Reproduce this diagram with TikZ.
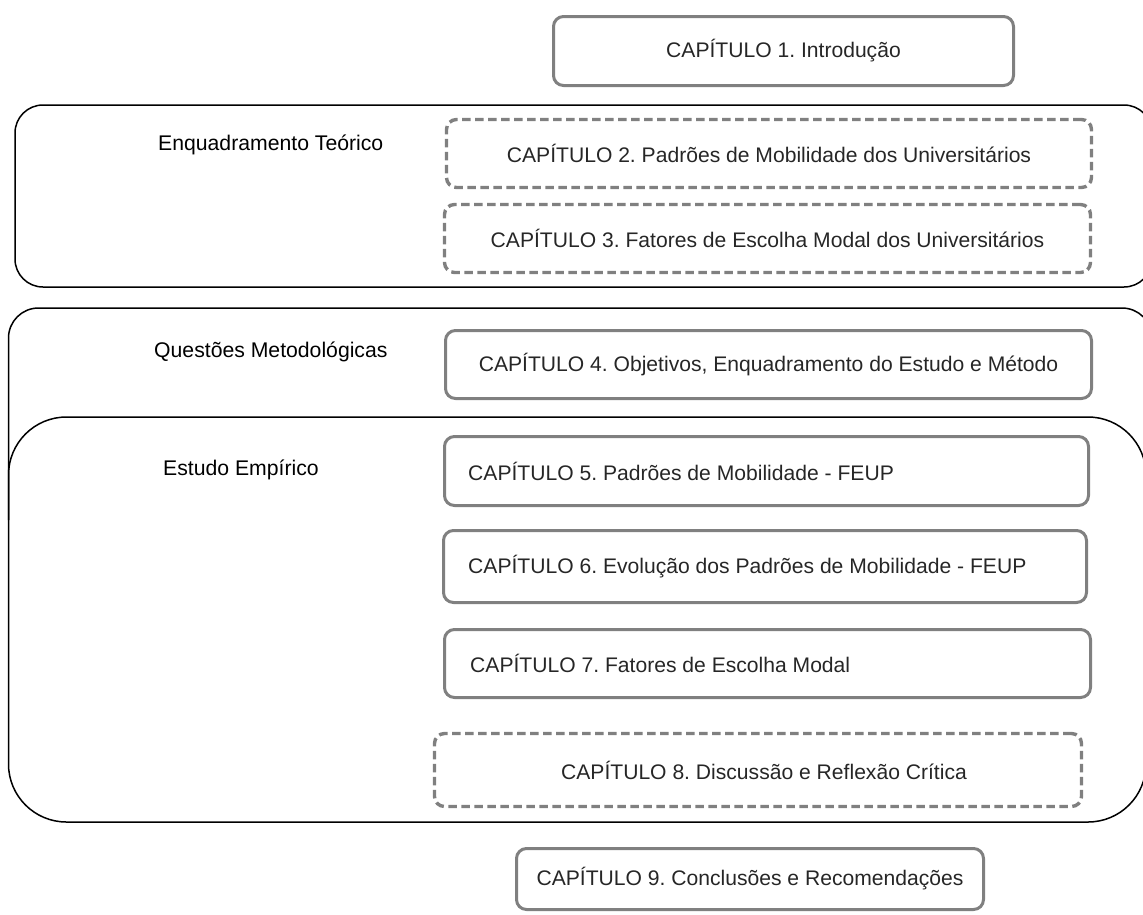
\documentclass[tikz,border=0pt]{standalone}
\usepackage{fontspec}
\setmainfont{Liberation Sans}
\definecolor{chapgray}{HTML}{808080}
\definecolor{inkdark}{HTML}{262626}
\frenchspacing
\begin{document}
\begin{tikzpicture}[x=1pt,y=-1pt,
  frame/.style={draw=black, line width=1.5pt},
  chap/.style={draw=chapgray, line width=3pt, rounded corners=10pt,
    font=\fontsize{21.1}{24}\selectfont, text=inkdark, inner sep=0pt},
  chapdash/.style={chap, line width=3.4pt, dash pattern=on 8.5pt off 4.5pt},
  chaptext/.style={font=\fontsize{21.1}{24}\selectfont, text=inkdark,
    inner sep=0pt, anchor=west},
  grouplabel/.style={font=\fontsize{21.2}{24}\selectfont, text=black,
    inner sep=0pt, anchor=west}]
\useasboundingbox (0,0) rectangle (1143,914);

% group frames
\draw[frame, rounded corners=28pt] (15,105) rectangle (1152,287);
\draw[frame, rounded corners=30pt] (8.5,520) -- (8.5,308) -- (1152,308) -- (1152,520);
\draw[frame, rounded corners=58pt] (8.5,417) rectangle (1146,822);

\node[grouplabel] (lt) at (158,145) {Enquadramento Teórico};
\node[grouplabel] (lm) at (154,352) {Questões Metodológicas};
\node[grouplabel] (le) at (163,470) {Estudo Empírico};

% chapters
\node[chap, minimum width=460pt, minimum height=69pt] (c1) at (783.5,51) {CAPÍTULO 1. Introdução};
\node[chapdash, minimum width=645pt, minimum height=68pt] (c2) at (769,153.5) {CAPÍTULO 2. Padrões de Mobilidade dos Universitários};
\node[chapdash, minimum width=646pt, minimum height=68pt] (c3) at (767.5,238.5) {CAPÍTULO 3. Fatores de Escolha Modal dos Universitários};
\node[chap, minimum width=646pt, minimum height=68pt] (c4) at (768.5,364.5) {CAPÍTULO 4. Objetivos, Enquadramento do Estudo e Método};
\node[chap, minimum width=644pt, minimum height=69pt] (c5) at (766.5,471) {};
\node[chaptext] (t5) at (468,471) {CAPÍTULO 5. Padrões de Mobilidade - FEUP};
\node[chap, minimum width=643pt, minimum height=72pt] (c6) at (765,566.5) {};
\node[chaptext] (t6) at (468,566.5) {CAPÍTULO 6. Evolução dos Padrões de Mobilidade - FEUP};
\node[chap, minimum width=646pt, minimum height=68pt] (c7) at (767.5,663.5) {};
\node[chaptext] (t7) at (470,663.5) {CAPÍTULO 7. Fatores de Escolha Modal};
\node[chapdash, minimum width=647pt, minimum height=73pt] (c8) at (758,770) {\hspace{12pt}CAPÍTULO 8. Discussão e Reflexão Crítica};
\node[chap, minimum width=467pt, minimum height=61pt] (c9) at (750,879) {CAPÍTULO 9. Conclusões e Recomendações};
\end{tikzpicture}
\end{document}
